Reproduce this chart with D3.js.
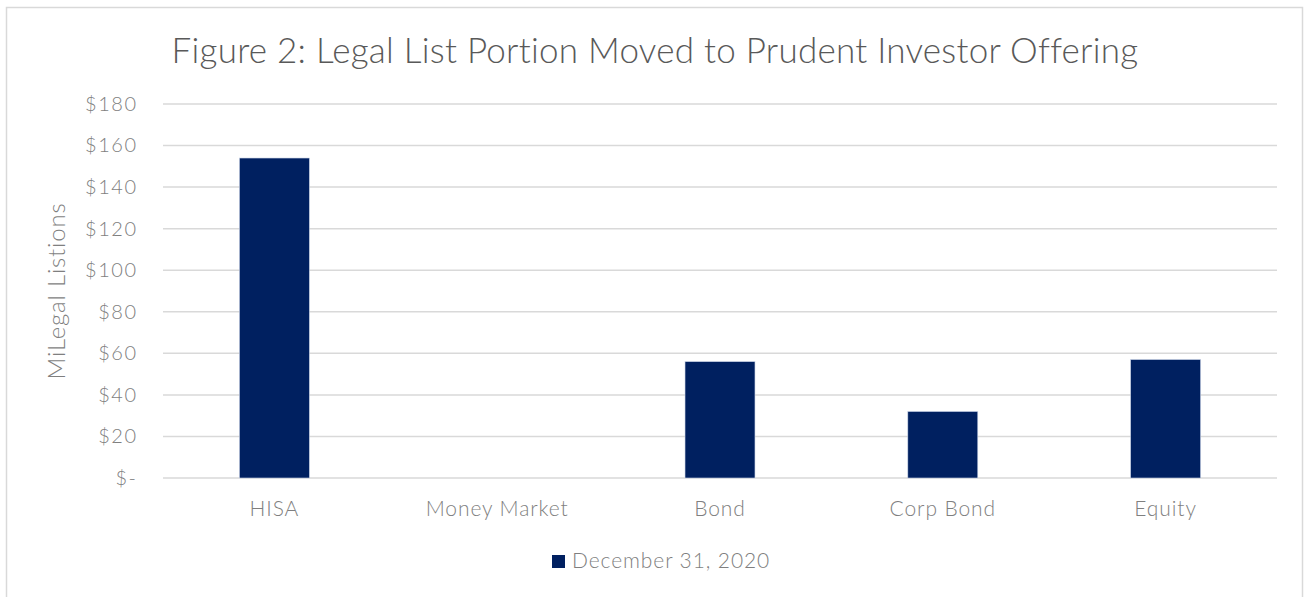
<!DOCTYPE html>
<html>
<head>
<meta charset="utf-8">
<script src="https://cdn.jsdelivr.net/npm/d3@7"></script>
<style>
  html, body { margin: 0; padding: 0; background: #fff; }
  svg { display: block; font-family: Lato, "Open Sans", sans-serif; font-weight: 300; }
</style>
</head>
<body>
<svg id="chart"></svg>
<script>
const width = 1307;
const height = 597;

// data
const categories = ['HISA', 'Money Market', 'Bond', 'Corp Bond', 'Equity'];
const values = [154, 0, 56, 32, 57];
const seriesName = 'December 31, 2020';
const yTicks = [0, 20, 40, 60, 80, 100, 120, 140, 160, 180];

const margin = { top: 104, right: 30, bottom: 119, left: 163 };

const svg = d3.select('#chart')
  .attr('width', width)
  .attr('height', height);

// chart frame
svg.append('rect')
  .attr('x', 6.5)
  .attr('y', 7.5)
  .attr('width', 1296)
  .attr('height', 600)
  .attr('fill', 'none')
  .attr('stroke', '#d9d9d9')
  .attr('stroke-width', 1.5);

const x = d3.scaleBand()
  .domain(categories)
  .range([margin.left, width - margin.right])
  .paddingInner(0.686)
  .paddingOuter(0.343);

const y = d3.scaleLinear()
  .domain([0, 180])
  .range([height - margin.bottom, margin.top]);

// gridlines
svg.append('g')
  .selectAll('line')
  .data(yTicks)
  .join('line')
  .attr('x1', margin.left)
  .attr('x2', width - margin.right)
  .attr('y1', d => y(d))
  .attr('y2', d => y(d))
  .attr('stroke', '#d9d9d9')
  .attr('stroke-width', 1.5);

// y axis labels
const yAxis = svg.append('g')
  .attr('transform', `translate(${margin.left - 25.5},0)`)
  .call(d3.axisLeft(y).tickValues(yTicks).tickSize(0).tickPadding(0)
    .tickFormat(d => d === 0 ? '$-' : `$${d}`));
yAxis.select('.domain').remove();
yAxis.selectAll('text')
  .attr('font-family', 'Lato, sans-serif')
  .attr('font-weight', 300)
  .attr('font-size', 20)
  .attr('letter-spacing', 1.5)
  .attr('fill', '#7f7f7f');

// bars
svg.append('g')
  .selectAll('rect')
  .data(values)
  .join('rect')
  .attr('x', (d, i) => x(categories[i]))
  .attr('width', x.bandwidth())
  .attr('y', d => y(d))
  .attr('height', d => y(0) - y(d))
  .attr('fill', '#002060')
  .attr('stroke', '#c9d3e6')
  .attr('stroke-width', 0.6);

// x axis labels
const xAxis = svg.append('g')
  .attr('transform', `translate(0,${y(0) + 23})`)
  .call(d3.axisBottom(x).tickSize(0).tickPadding(0));
xAxis.select('.domain').remove();
xAxis.selectAll('text')
  .attr('dy', '0.71em')
  .attr('font-family', 'Lato, sans-serif')
  .attr('font-weight', 300)
  .attr('font-size', 21)
  .attr('letter-spacing', 0.9)
  .attr('fill', '#7f7f7f');

// title
svg.append('text')
  .attr('x', 655)
  .attr('y', 63)
  .attr('text-anchor', 'middle')
  .attr('font-size', 35)
  .attr('letter-spacing', 0.25)
  .attr('fill', '#595959')
  .text('Figure 2: Legal List Portion Moved to Prudent Investor Offering');

// y axis title
svg.append('text')
  .attr('transform', `translate(65,${(y(0) + y(180)) / 2}) rotate(-90)`)
  .attr('text-anchor', 'middle')
  .attr('font-size', 24)
  .attr('letter-spacing', 0.8)
  .attr('fill', '#7f7f7f')
  .text('MiLegal Listions');

// legend
const legend = svg.append('g')
  .attr('transform', 'translate(552,555)');
legend.append('rect')
  .attr('width', 13)
  .attr('height', 13)
  .attr('fill', '#002060');
legend.append('text')
  .attr('x', 20)
  .attr('y', 13)
  .attr('font-size', 21)
  .attr('letter-spacing', 0.9)
  .attr('fill', '#7f7f7f')
  .text(seriesName);
</script>
</body>
</html>
